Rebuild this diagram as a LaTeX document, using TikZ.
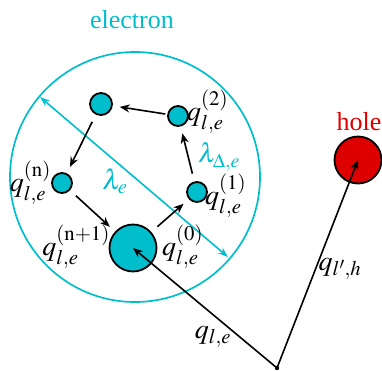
\documentclass[tikz,border=0pt]{standalone}
\usepackage{mathptmx}
\usepackage{fontspec}
\setmainfont{Liberation Serif}
\usetikzlibrary{arrows.meta,positioning}
\definecolor{elcyan}{RGB}{0,190,204}
\definecolor{holered}{RGB}{222,0,0}
\tikzset{
  qball/.style={circle,draw=black,line width=1.8pt,fill=elcyan,inner sep=0pt,minimum size=#1},
  hop/.style={-{Stealth[length=10pt,width=8pt]},line width=1.6pt,shorten <=8pt,shorten >=7pt},
  vec/.style={-{Stealth[length=10pt,width=8pt]},line width=1.6pt},
  lam/.style={{Stealth[length=10pt,width=7pt]}-{Stealth[length=10pt,width=7pt]},draw=elcyan,line width=1.6pt},
  lab/.style={font=\fontsize{28}{30}\selectfont,inner sep=0pt},
  ttl/.style={font=\fontsize{26}{28}\selectfont,inner sep=0pt}
}
\begin{document}
\begin{tikzpicture}[x=1pt,y=-1pt]
  \useasboundingbox (0,0) rectangle (382,371);
  % electron cloud
  \node[circle,draw=elcyan,line width=1.7pt,minimum size=250pt,inner sep=0pt] (cloud) at (135,177) {};
  \node[ttl,text=elcyan] (eltitle) at (132,20) {electron};
  % lambda_e
  \coordinate (lamA) at (40,97);
  \coordinate (lamB) at (228,257);
  \draw[lam] (lamA) -- (lamB);
  \node[lab,text=elcyan] (lame) at (115,181) {$\lambda_e$};
  % path balls
  \node[qball=22pt] (n3) at (101,104) {};
  \node[qball=20pt] (n2) at (178,116) {};
  \node[qball=20pt] (nn) at (62,183) {};
  \node[qball=20pt] (n1) at (197,192) {};
  \node[qball=47pt] (n0) at (133,248) {};
  \draw[hop,shorten <=2pt] (n2) -- (n3);
  \draw[hop] (n3) -- (nn);
  \draw[hop] (nn) -- (n0);
  \draw[hop] (n0) -- (n1);
  \draw[hop] (n1) -- (n2);
  % labels
  \node[lab,anchor=west] (l2) at (187,112) {$q^{(2)}_{l,e}$};
  \node[lab,anchor=east] (ln) at (51,183) {$q^{\mathrm{(n)}}_{l,e}$};
  \node[lab,anchor=west] (l1) at (205,196) {$q^{(1)}_{l,e}$};
  \node[lab,anchor=east] (lnp) at (110,247) {$q^{\mathrm{(n+1)}}_{l,e}$};
  \node[lab,anchor=west] (l0) at (162,247) {$q^{(0)}_{l,e}$};
  \node[lab,text=elcyan,font=\fontsize{27}{29}\selectfont] (ldel) at (219,157) {$\lambda_{\Delta,e}$};
  % hole
  \node[qball=47pt,fill=holered] (hole) at (358,160) {};
  \node[ttl,text=holered] (holetitle) at (359,122) {hole};
  % relative vectors
  \coordinate (orig) at (277,368);
  \fill (orig) circle (2.2pt);
  \draw[vec] (orig) -- (n0.center);
  \draw[vec] (orig) -- (hole.center);
  \node[lab] (qle) at (213,337) {$q_{l,e}$};
  \node[lab] (qlh) at (340,269) {$q_{l',h}$};
\end{tikzpicture}
\end{document}
